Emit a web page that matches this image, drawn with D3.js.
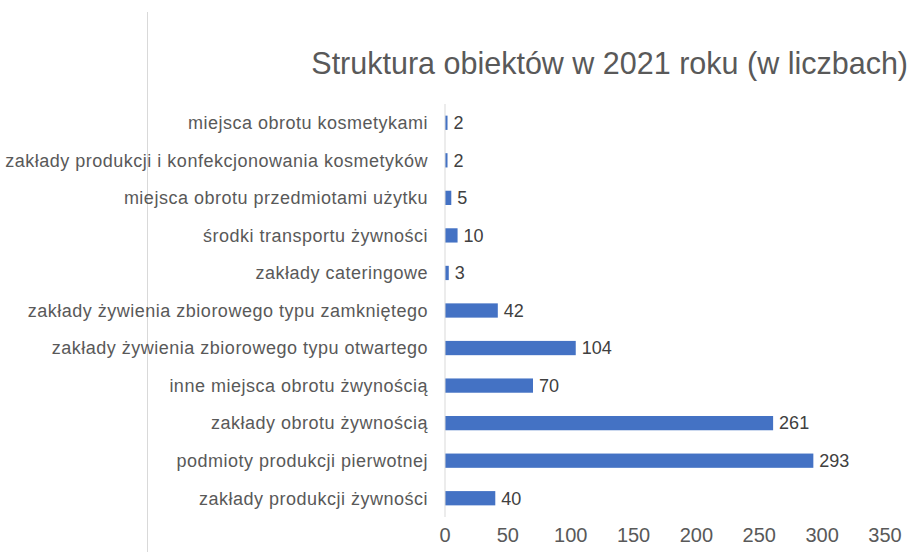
<!DOCTYPE html>
<html>
<head>
<meta charset="utf-8">
<script src="https://cdn.jsdelivr.net/npm/d3@7"></script>
<style>
  body { margin: 0; background: #fff; }
  svg text { font-family: "Liberation Sans", sans-serif; }
</style>
</head>
<body>
<div id="chart"></div>
<script>
const categories = [
  "miejsca obrotu kosmetykami",
  "zakłady produkcji i konfekcjonowania kosmetyków",
  "miejsca obrotu przedmiotami użytku",
  "środki transportu żywności",
  "zakłady cateringowe",
  "zakłady żywienia zbiorowego typu zamkniętego",
  "zakłady żywienia zbiorowego typu otwartego",
  "inne miejsca obrotu żwynością",
  "zakłady obrotu żywnością",
  "podmioty produkcji pierwotnej",
  "zakłady produkcji żywności"
];
const values = [2, 2, 5, 10, 3, 42, 104, 70, 261, 293, 40];
const xTicks = [0, 50, 100, 150, 200, 250, 300, 350];
const title = "Struktura obiektów w 2021 roku (w liczbach)";

const width = 914, height = 552;

const svg = d3.select("#chart")
  .append("svg")
  .attr("width", width)
  .attr("height", height);

// left frame line
svg.append("line")
  .attr("x1", 147.5).attr("x2", 147.5)
  .attr("y1", 12).attr("y2", height)
  .attr("stroke", "#d9d9d9");

svg.append("text")
  .attr("x", 908)
  .attr("y", 74)
  .attr("text-anchor", "end")
  .style("font-size", "30.5px")
  .style("fill", "#595959")
  .text(title);

const x = d3.scaleLinear().domain([0, 350]).range([445, 885]);
const y = d3.scaleBand().domain(categories).range([104, 517]).paddingInner(0.62).paddingOuter(0.31);

// bars
svg.selectAll("rect.bar")
  .data(values)
  .enter()
  .append("rect")
  .attr("class", "bar")
  .attr("x", x(0))
  .attr("y", (d, i) => y(categories[i]))
  .attr("width", d => x(d) - x(0))
  .attr("height", y.bandwidth())
  .attr("fill", "#4472c4");

// axis line
svg.append("line")
  .attr("x1", x(0)).attr("x2", x(0))
  .attr("y1", 104).attr("y2", 517)
  .attr("stroke", "#d9d9d9");

// category labels
svg.selectAll("text.cat")
  .data(categories)
  .enter()
  .append("text")
  .attr("class", "cat")
  .attr("x", 428)
  .attr("y", d => y(d) + y.bandwidth() / 2)
  .attr("dy", "0.35em")
  .attr("text-anchor", "end")
  .style("font-size", "18px")
  .style("letter-spacing", "0.5px")
  .style("fill", "#595959")
  .text(d => d);

// data labels
svg.selectAll("text.val")
  .data(values)
  .enter()
  .append("text")
  .attr("class", "val")
  .attr("x", d => x(d) + 6)
  .attr("y", (d, i) => y(categories[i]) + y.bandwidth() / 2)
  .attr("dy", "0.35em")
  .style("font-size", "18px")
  .style("fill", "#404040")
  .text(d => d);

// x tick labels
svg.selectAll("text.tick")
  .data(xTicks)
  .enter()
  .append("text")
  .attr("class", "tick")
  .attr("x", d => x(d))
  .attr("y", 542)
  .attr("text-anchor", "middle")
  .style("font-size", "20px")
  .style("fill", "#595959")
  .text(d => d);
</script>
</body>
</html>
